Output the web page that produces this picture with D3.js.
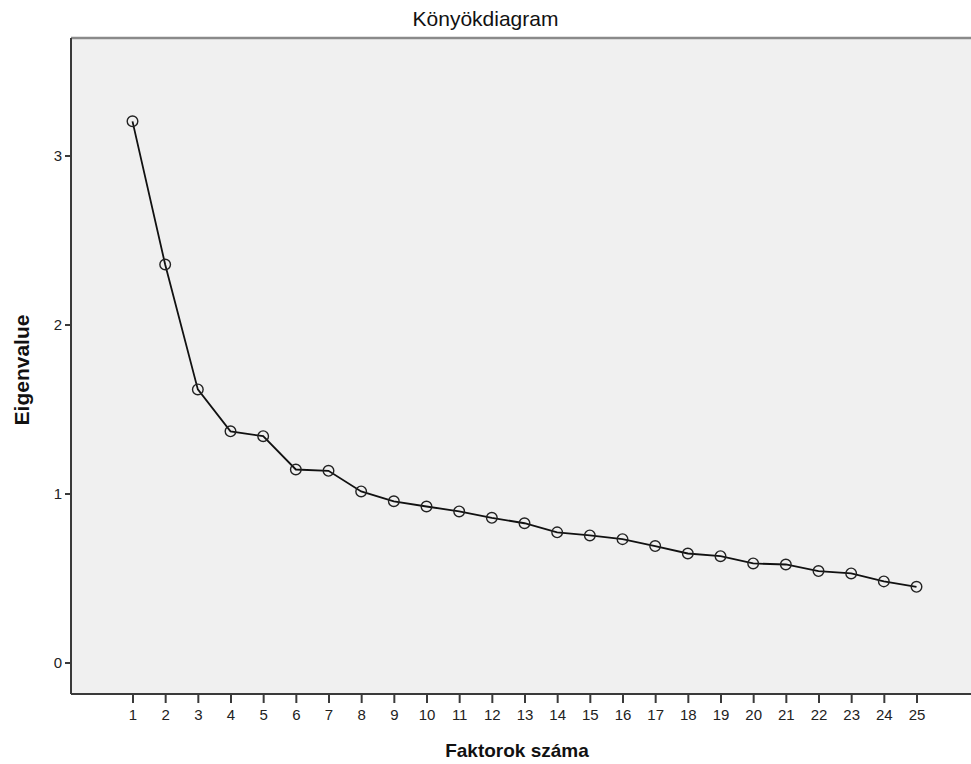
<!DOCTYPE html>
<html>
<head>
<meta charset="utf-8">
<script src="https://cdn.jsdelivr.net/npm/d3@7"></script>
<style>
	body { margin: 0; background: #fff; }
	svg { display: block; font-family: "Liberation Sans", Arial, sans-serif; }
	.tick text { fill: #222; }
</style>
</head>
<body>
<div id="chart"></div>
<script>
// scree plot data
const factors = d3.range(1, 26);
const eigenvalues = [3.202, 2.355, 1.616, 1.368, 1.339, 1.142, 1.134, 1.012, 0.954, 0.923,
	0.894, 0.856, 0.824, 0.770, 0.752, 0.730, 0.689, 0.645, 0.629, 0.586,
	0.580, 0.541, 0.527, 0.480, 0.448];
const yTicks = [0, 1, 2, 3];

const titleText = 'Könyökdiagram';
const xTitle = 'Faktorok száma';
const yTitle = 'Eigenvalue';

const width = 971;
const height = 764;
const plotLeft = 71;
const plotRight = 971;
const plotTop = 38;
const plotBottom = 694;

const data = factors.map((f, i) => ({ f, v: eigenvalues[i] }));

const $svg = d3.select('#chart').append('svg')
	.attr('width', width)
	.attr('height', height);

// scales
const scaleX = d3.scaleLinear().domain([1, 25]).range([132.5, 916.5]);
const scaleY = d3.scaleLinear().domain([0, 3]).range([662.5, 155.5]);

// plot background
$svg.append('rect')
	.attr('x', plotLeft)
	.attr('y', plotTop)
	.attr('width', plotRight - plotLeft)
	.attr('height', plotBottom - plotTop)
	.attr('fill', '#f0f0f0');

// top frame line
$svg.append('line')
	.attr('x1', plotLeft).attr('x2', plotRight)
	.attr('y1', plotTop).attr('y2', plotTop)
	.attr('stroke', '#8a8a8a')
	.attr('stroke-width', 2.5);

// axes
const $xAxis = $svg.append('g')
	.attr('transform', `translate(0,${plotBottom})`)
	.call(d3.axisBottom(scaleX).tickValues(factors).tickSize(9).tickPadding(6).tickFormat(d3.format('d')));

$xAxis.select('.domain')
	.attr('d', `M${plotLeft},0H${plotRight}`);

const $yAxis = $svg.append('g')
	.attr('transform', `translate(${plotLeft},0)`)
	.call(d3.axisLeft(scaleY).tickValues(yTicks).tickSize(6).tickPadding(3).tickFormat(d3.format('d')));

$yAxis.select('.domain')
	.attr('d', `M0,${plotTop}V${plotBottom}`);

$svg.selectAll('.domain').attr('stroke', '#3a3a3a').attr('stroke-width', 2);
$svg.selectAll('.tick line').attr('stroke', '#3a3a3a').attr('stroke-width', 2);
$svg.selectAll('.tick text').attr('font-size', 15).attr('font-family', '"Liberation Sans", Arial, sans-serif');

// line
const line = d3.line()
	.x(d => scaleX(d.f))
	.y(d => scaleY(d.v));

$svg.append('path')
	.datum(data)
	.attr('d', line)
	.attr('fill', 'none')
	.attr('stroke', '#111')
	.attr('stroke-width', 1.8);

// markers
$svg.append('g')
	.selectAll('circle')
	.data(data)
	.join('circle')
	.attr('cx', d => scaleX(d.f))
	.attr('cy', d => scaleY(d.v))
	.attr('r', 5.3)
	.attr('fill', 'none')
	.attr('stroke', '#222')
	.attr('stroke-width', 1.4);

// titles
$svg.append('text')
	.attr('x', width / 2)
	.attr('y', 26)
	.attr('text-anchor', 'middle')
	.attr('font-size', 21)
	.attr('fill', '#111')
	.text(titleText);

$svg.append('text')
	.attr('x', (plotLeft + plotRight) / 2 - 4)
	.attr('y', 757)
	.attr('text-anchor', 'middle')
	.attr('font-size', 19)
	.attr('font-weight', 'bold')
	.attr('fill', '#111')
	.text(xTitle);

$svg.append('text')
	.attr('transform', `translate(29,${(plotTop + plotBottom) / 2 + 4}) rotate(-90)`)
	.attr('text-anchor', 'middle')
	.attr('font-size', 21)
	.attr('font-weight', 'bold')
	.attr('fill', '#111')
	.text(yTitle);
</script>
</body>
</html>
